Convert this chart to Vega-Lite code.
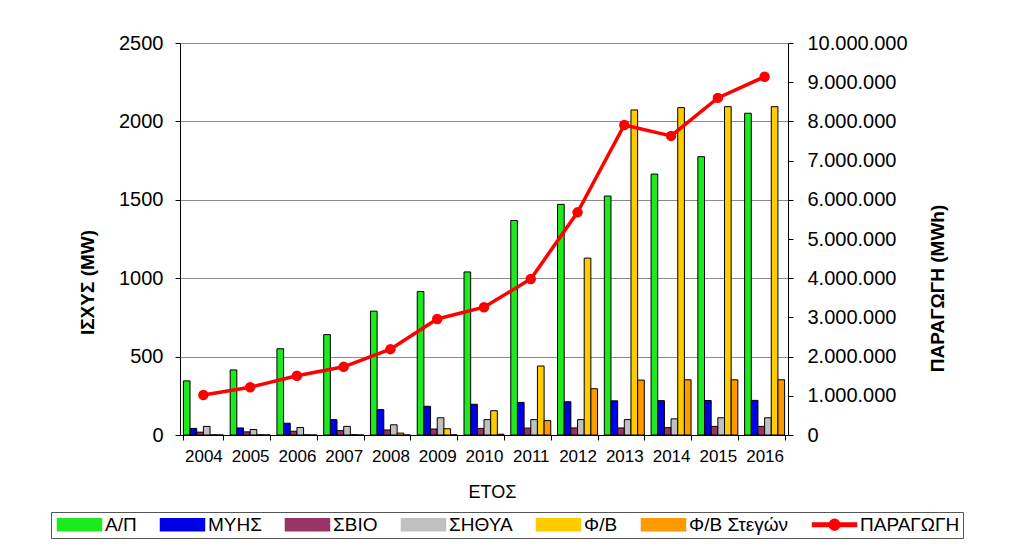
{
  "$schema": "https://vega.github.io/schema/vega-lite/v6.json",
  "width": 608,
  "height": 392,
  "autosize": {"type": "none"},
  "padding": {"left": 180, "top": 43, "right": 236, "bottom": 120},
  "background": "white",
  "config": {
    "view": {"stroke": null},
    "font": "Liberation Sans",
    "axis": {"labelFont": "Liberation Sans", "titleFont": "Liberation Sans", "labelColor": "black", "titleColor": "black", "domainColor": "black", "tickColor": "black"}
  },
  "datasets": {
    "bars": [
      {"year": 2004, "series": "Α/Π", "mw": 345}, {"year": 2005, "series": "Α/Π", "mw": 415}, {"year": 2006, "series": "Α/Π", "mw": 550}, {"year": 2007, "series": "Α/Π", "mw": 640}, {"year": 2008, "series": "Α/Π", "mw": 790}, {"year": 2009, "series": "Α/Π", "mw": 915}, {"year": 2010, "series": "Α/Π", "mw": 1040}, {"year": 2011, "series": "Α/Π", "mw": 1368}, {"year": 2012, "series": "Α/Π", "mw": 1471}, {"year": 2013, "series": "Α/Π", "mw": 1524}, {"year": 2014, "series": "Α/Π", "mw": 1664}, {"year": 2015, "series": "Α/Π", "mw": 1775}, {"year": 2016, "series": "Α/Π", "mw": 2052},
      {"year": 2004, "series": "ΜΥΗΣ", "mw": 42}, {"year": 2005, "series": "ΜΥΗΣ", "mw": 45}, {"year": 2006, "series": "ΜΥΗΣ", "mw": 75}, {"year": 2007, "series": "ΜΥΗΣ", "mw": 98}, {"year": 2008, "series": "ΜΥΗΣ", "mw": 162}, {"year": 2009, "series": "ΜΥΗΣ", "mw": 183}, {"year": 2010, "series": "ΜΥΗΣ", "mw": 196}, {"year": 2011, "series": "ΜΥΗΣ", "mw": 208}, {"year": 2012, "series": "ΜΥΗΣ", "mw": 212}, {"year": 2013, "series": "ΜΥΗΣ", "mw": 218}, {"year": 2014, "series": "ΜΥΗΣ", "mw": 219}, {"year": 2015, "series": "ΜΥΗΣ", "mw": 220}, {"year": 2016, "series": "ΜΥΗΣ", "mw": 221},
      {"year": 2004, "series": "ΣΒΙΟ", "mw": 18}, {"year": 2005, "series": "ΣΒΙΟ", "mw": 20}, {"year": 2006, "series": "ΣΒΙΟ", "mw": 24}, {"year": 2007, "series": "ΣΒΙΟ", "mw": 28}, {"year": 2008, "series": "ΣΒΙΟ", "mw": 32}, {"year": 2009, "series": "ΣΒΙΟ", "mw": 38}, {"year": 2010, "series": "ΣΒΙΟ", "mw": 42}, {"year": 2011, "series": "ΣΒΙΟ", "mw": 44}, {"year": 2012, "series": "ΣΒΙΟ", "mw": 45}, {"year": 2013, "series": "ΣΒΙΟ", "mw": 45}, {"year": 2014, "series": "ΣΒΙΟ", "mw": 47}, {"year": 2015, "series": "ΣΒΙΟ", "mw": 55}, {"year": 2016, "series": "ΣΒΙΟ", "mw": 55},
      {"year": 2004, "series": "ΣΗΘΥΑ", "mw": 55}, {"year": 2005, "series": "ΣΗΘΥΑ", "mw": 35}, {"year": 2006, "series": "ΣΗΘΥΑ", "mw": 48}, {"year": 2007, "series": "ΣΗΘΥΑ", "mw": 55}, {"year": 2008, "series": "ΣΗΘΥΑ", "mw": 65}, {"year": 2009, "series": "ΣΗΘΥΑ", "mw": 110}, {"year": 2010, "series": "ΣΗΘΥΑ", "mw": 98}, {"year": 2011, "series": "ΣΗΘΥΑ", "mw": 98}, {"year": 2012, "series": "ΣΗΘΥΑ", "mw": 98}, {"year": 2013, "series": "ΣΗΘΥΑ", "mw": 98}, {"year": 2014, "series": "ΣΗΘΥΑ", "mw": 103}, {"year": 2015, "series": "ΣΗΘΥΑ", "mw": 110}, {"year": 2016, "series": "ΣΗΘΥΑ", "mw": 110},
      {"year": 2004, "series": "Φ/Β", "mw": 1}, {"year": 2005, "series": "Φ/Β", "mw": 1}, {"year": 2006, "series": "Φ/Β", "mw": 1}, {"year": 2007, "series": "Φ/Β", "mw": 2}, {"year": 2008, "series": "Φ/Β", "mw": 12}, {"year": 2009, "series": "Φ/Β", "mw": 40}, {"year": 2010, "series": "Φ/Β", "mw": 155}, {"year": 2011, "series": "Φ/Β", "mw": 440}, {"year": 2012, "series": "Φ/Β", "mw": 1128}, {"year": 2013, "series": "Φ/Β", "mw": 2073}, {"year": 2014, "series": "Φ/Β", "mw": 2088}, {"year": 2015, "series": "Φ/Β", "mw": 2094}, {"year": 2016, "series": "Φ/Β", "mw": 2094},
      {"year": 2004, "series": "Φ/Β Στεγών", "mw": 0}, {"year": 2005, "series": "Φ/Β Στεγών", "mw": 0}, {"year": 2006, "series": "Φ/Β Στεγών", "mw": 0}, {"year": 2007, "series": "Φ/Β Στεγών", "mw": 0}, {"year": 2008, "series": "Φ/Β Στεγών", "mw": 0}, {"year": 2009, "series": "Φ/Β Στεγών", "mw": 1}, {"year": 2010, "series": "Φ/Β Στεγών", "mw": 5}, {"year": 2011, "series": "Φ/Β Στεγών", "mw": 92}, {"year": 2012, "series": "Φ/Β Στεγών", "mw": 295}, {"year": 2013, "series": "Φ/Β Στεγών", "mw": 350}, {"year": 2014, "series": "Φ/Β Στεγών", "mw": 352}, {"year": 2015, "series": "Φ/Β Στεγών", "mw": 352}, {"year": 2016, "series": "Φ/Β Στεγών", "mw": 352}
    ],
    "prod": [
      {"year": 2004, "mwh": 1020000}, {"year": 2005, "mwh": 1220000}, {"year": 2006, "mwh": 1510000}, {"year": 2007, "mwh": 1740000}, {"year": 2008, "mwh": 2190000}, {"year": 2009, "mwh": 2960000}, {"year": 2010, "mwh": 3260000}, {"year": 2011, "mwh": 3980000}, {"year": 2012, "mwh": 5680000}, {"year": 2013, "mwh": 7910000}, {"year": 2014, "mwh": 7630000}, {"year": 2015, "mwh": 8600000}, {"year": 2016, "mwh": 9140000}
    ]
  },
  "layer": [
    {
      "data": {"name": "bars"},
      "mark": {"type": "bar", "stroke": "black", "strokeWidth": 1},
      "encoding": {
        "x": {
          "field": "year", "type": "ordinal",
          "scale": {"paddingInner": 0.145, "paddingOuter": 0.0725},
          "axis": {"title": "ΕΤΟΣ", "labelAngle": 0, "labelFontSize": 17, "labelPadding": 8, "tickSize": 5, "tickBand": "extent", "grid": false,
                   "titleFontSize": 18, "titleFontWeight": "normal", "titleX": 312, "titleY": 57, "titleBaseline": "middle", "titleAlign": "center"}
        },
        "xOffset": {"field": "series", "type": "nominal", "scale": {"domain": ["Α/Π", "ΜΥΗΣ", "ΣΒΙΟ", "ΣΗΘΥΑ", "Φ/Β", "Φ/Β Στεγών"], "paddingInner": 0, "paddingOuter": 0}},
        "y": {
          "field": "mw", "type": "quantitative",
          "scale": {"domain": [0, 2500], "nice": false},
          "axis": {"title": "ΙΣΧΥΣ (MW)", "format": "d", "values": [0, 500, 1000, 1500, 2000, 2500], "grid": true, "gridColor": "#8c8c8c", "gridWidth": 1,
                   "labelFontSize": 20, "labelPadding": 12, "tickSize": 5,
                   "titleFontSize": 19, "titleFontWeight": "bold", "titleX": -93, "titleY": 239, "titleAngle": 270, "titleBaseline": "middle", "titleAlign": "center"}
        },
        "color": {
          "field": "series", "type": "nominal",
          "scale": {"domain": ["Α/Π", "ΜΥΗΣ", "ΣΒΙΟ", "ΣΗΘΥΑ", "Φ/Β", "Φ/Β Στεγών", "ΠΑΡΑΓΩΓΗ"],
                    "range": ["#1EE81E", "#0000E6", "#993366", "#C0C0C0", "#FFCC00", "#FF9900", "#FF0000"]},
          "legend": {
            "title": null, "orient": "none", "legendX": -129, "legendY": 469, "direction": "horizontal", "columns": 7,
            "symbolType": "M-1,-1H6.33V1H-1Z", "symbolSize": 144, "symbolStrokeColor": "black", "symbolStrokeWidth": 1.5,
            "labelFont": "Liberation Sans", "labelFontSize": 19, "labelColor": "black", "labelOffset": 32, "columnPadding": 20,
            "padding": 3, "strokeColor": "#555555", "fillColor": "white",
            "encode": {
              "symbols": {
                "update": {
                  "shape": {"signal": "datum.value === 'ΠΑΡΑΓΩΓΗ' ? 'M-1,-0.3H6.33V0.3H-1Z M3.57,0A0.9,0.9,0,1,1,1.77,0A0.9,0.9,0,1,1,3.57,0Z' : 'M-1,-1H6.33V1H-1Z'"},
                  "fill": {"signal": "scale('color', datum.value)"},
                  "stroke": {"signal": "datum.value === 'ΠΑΡΑΓΩΓΗ' ? '#FF0000' : '#000000'"},
                  "strokeWidth": {"value": 1.5},
                  "opacity": {"value": 1}
                }
              }
            }
          }
        }
      }
    },
    {
      "data": {"name": "prod"},
      "mark": {"type": "line", "strokeWidth": 3.5, "point": {"filled": true, "size": 110}},
      "encoding": {
        "x": {"field": "year", "type": "ordinal"},
        "y": {
          "field": "mwh", "type": "quantitative",
          "scale": {"domain": [0, 10000000], "nice": false},
          "axis": {"orient": "right", "title": "ΠΑΡΑΓΩΓΗ (MWh)", "values": [0, 1000000, 2000000, 3000000, 4000000, 5000000, 6000000, 7000000, 8000000, 9000000, 10000000],
                   "labelExpr": "replace(format(datum.value, ','), regexp(',', 'g'), '.')", "grid": false,
                   "labelFontSize": 20, "labelPadding": 14, "tickSize": 5,
                   "titleFontSize": 19, "titleFontWeight": "bold", "titleX": 149, "titleY": 245, "titleAngle": 270, "titleBaseline": "middle", "titleAlign": "center"}
        },
        "color": {"datum": "ΠΑΡΑΓΩΓΗ"}
      }
    }
  ],
  "resolve": {"scale": {"y": "independent"}}
}
